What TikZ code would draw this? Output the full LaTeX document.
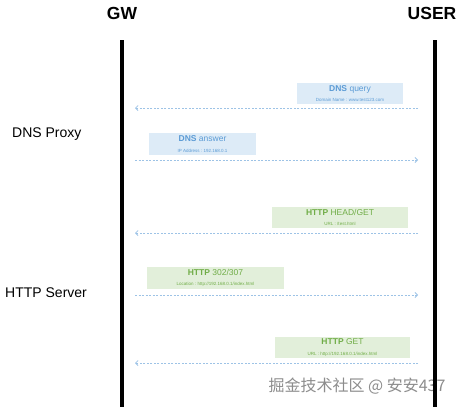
\documentclass[tikz,border=0pt]{standalone}
\usepackage{fontspec}
\setmainfont{Liberation Sans}
\newfontfamily\cjkfont{Noto Sans CJK SC}
\usetikzlibrary{arrows.meta, positioning}
\definecolor{dnsfill}{HTML}{DDEBF7}
\definecolor{dnstext}{HTML}{5B9BD5}
\definecolor{httpfill}{HTML}{E2EFDA}
\definecolor{httptext}{HTML}{70AD47}
\definecolor{msgline}{HTML}{9DC3E6}
\newcommand{\msgtext}[3]{{\fontsize{8.5}{9}\selectfont\textbf{#1} #2}\\[-1.5pt]{\fontsize{4.5}{5}\selectfont #3}}
\tikzset{
  lifeline/.style={line width=4pt},
  actor/.style={font=\fontsize{17.5}{20}\selectfont\bfseries},
  role/.style={font=\fontsize{14}{16}\selectfont, anchor=west, inner sep=0pt},
  dnsbox/.style={rectangle, fill=dnsfill, text=dnstext, align=center, inner sep=1pt, minimum height=21pt},
  httpbox/.style={rectangle, fill=httpfill, text=httptext, align=center, inner sep=1pt, minimum height=21pt},
  msg/.style={-{Straight Barb[length=2.5pt,width=5pt]}, draw=msgline, dash pattern=on 2pt off 1.5pt, line width=0.8pt},
}

\begin{document}
\begin{tikzpicture}[x=1pt, y=-1pt]
  \useasboundingbox (0,0) rectangle (458,407);

  % watermark
  \node[font=\cjkfont\fontsize{16}{18}\selectfont, text=black!45] (mark) at (357,386) {掘金技术社区 @ 安安437};

  % actors and lifelines
  \node[actor] (gw) at (122,13) {GW};
  \node[actor] (user) at (432,13) {USER};
  \coordinate (gwtop) at (122,40);
  \coordinate (gwbot) at (122,407);
  \coordinate (usertop) at (435,40);
  \coordinate (userbot) at (435,407);
  \draw[lifeline] (gwtop) -- (gwbot);
  \draw[lifeline] (usertop) -- (userbot);

  % roles
  \node[role] (proxy) at (12,134) {DNS Proxy};
  \node[role] (server) at (5,293) {HTTP Server};

  % message end points
  \foreach \n/\y in {1/108, 2/160, 3/233, 4/295, 5/363} {
    \coordinate (gw\n) at (135,\y);
    \coordinate (user\n) at (418,\y);
  }

  % DNS query
  \node[dnsbox, minimum width=106pt] (query) at (350,93.5) {\msgtext{DNS}{query}{Domain Name : www.test123.com}};
  \draw[msg] (user1) -- (gw1);

  % DNS answer
  \node[dnsbox, minimum width=107pt, minimum height=22pt] (answer) at (202.5,144) {\msgtext{DNS}{answer}{IP Address : 192.168.0.1}};
  \draw[msg] (gw2) -- (user2);

  % HTTP HEAD/GET
  \node[httpbox, minimum width=136pt] (headget) at (340,217.5) {\msgtext{HTTP}{HEAD/GET}{URL : /test.html}};
  \draw[msg] (user3) -- (gw3);

  % HTTP 302/307
  \node[httpbox, minimum width=137pt, minimum height=22pt] (redirect) at (215.5,278) {\msgtext{HTTP}{302/307}{Location : http://192.168.0.1/index.html}};
  \draw[msg] (gw4) -- (user4);

  % HTTP GET
  \node[httpbox, minimum width=135pt] (get) at (342.5,347.5) {\msgtext{HTTP}{GET}{URL : http://192.168.0.1/index.html}};
  \draw[msg] (user5) -- (gw5);
\end{tikzpicture}
\end{document}
